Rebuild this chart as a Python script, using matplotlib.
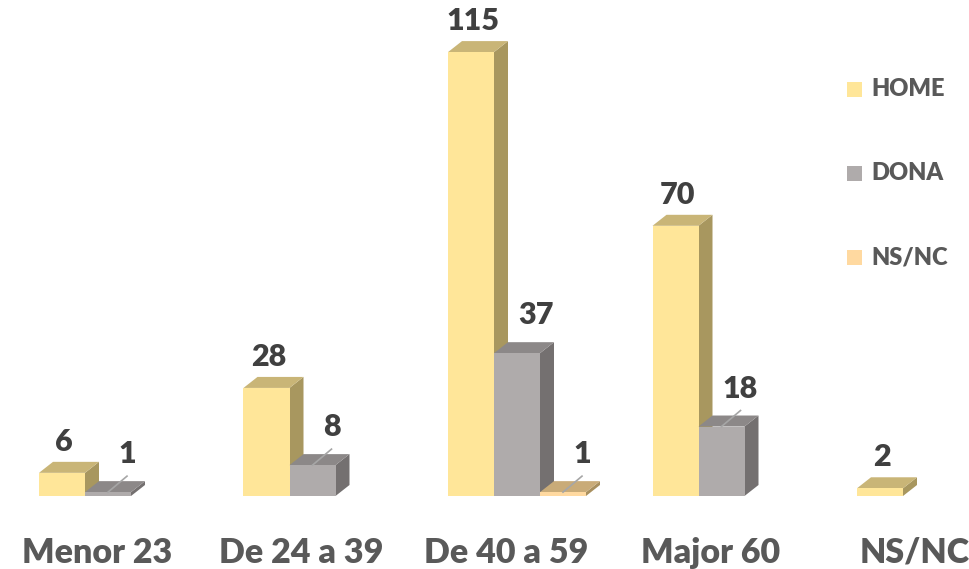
import matplotlib
matplotlib.use("Agg")
import matplotlib.pyplot as plt
from matplotlib.patches import Polygon, Rectangle

# =========================
# DATA
# =========================
categories = ["Menor 23", "De 24 a 39", "De 40 a 59", "Major 60", "NS/NC"]
home = [6, 28, 115, 70, 2]
dona = [1, 8, 37, 18, 0]
nsnc = [0, 0, 1, 0, 0]
series_names = ["HOME", "DONA", "NS/NC"]

# =========================
# STYLE
# =========================
# (front, top, side) colours per series
faces = {
    "HOME": ("#FFE699", "#C9B577", "#A8975F"),
    "DONA": ("#AFABAB", "#8C8888", "#747070"),
    "NS/NC": ("#FFD9A0", "#C9AB78", "#A88F5E"),
}
legend_cols = {"HOME": "#FFE699", "DONA": "#AFABAB", "NS/NC": "#FFD9A0"}

W, H = 969, 569
px_x = 204.5          # pixels per category
px_y = 3.86           # pixels per unit of value
base_px = 73          # baseline height from bottom in px
first_center_px = 97

bar_w = 46 / px_x
dx = 14 / px_x
dy = 11 / px_y
offsets = [-58 / px_x, -12 / px_x, 34 / px_x]

plt.rcParams['font.family'] = ['Lato', 'DejaVu Sans']
WEIGHT = "heavy"

fig = plt.figure(figsize=(W / 100, H / 100), dpi=100)
ax = fig.add_axes([0, 0, 1, 1])
ax.set_xlim(-first_center_px / px_x, (W - first_center_px) / px_x)
ax.set_ylim(-base_px / px_y, (H - base_px) / px_y)
ax.axis("off")


def bar3d(x0, h, name):
    front, top, side = faces[name]
    x1 = x0 + bar_w
    ax.add_patch(Polygon([(x1, 0), (x1 + dx, dy), (x1 + dx, h + dy), (x1, h)],
                         closed=True, fc=side, ec="none"))
    ax.add_patch(Polygon([(x0, h), (x1, h), (x1 + dx, h + dy), (x0 + dx, h + dy)],
                         closed=True, fc=top, ec="none"))
    ax.add_patch(Rectangle((x0, 0), bar_w, h, fc=front, ec="none"))


series = [home, dona, nsnc]
for i, cat in enumerate(categories):
    # NS/NC category has only one bar, drawn in first slot
    for k, (name, vals) in enumerate(zip(series_names, series)):
        v = vals[i]
        if v == 0:
            continue
        col_name = name if i < 4 else "HOME"
        x0 = i + offsets[k]
        bar3d(x0, v, col_name)
        xc = x0 + bar_w / 2
        if k == 0:
            ax.text(xc + 2 / px_x, v + 31 / px_y, str(v), ha="center", va="center",
                    fontsize=22, fontweight=WEIGHT, color="#404040")
        else:
            lx = xc + 19 / px_x
            ly = v + 38 / px_y
            if v < 30:
                ax.plot([xc, lx], [v, ly - 22 / px_y], color="#A6A6A6", lw=1.2)
            ax.text(lx, ly, str(v), ha="center", va="center",
                    fontsize=22, fontweight=WEIGHT, color="#404040")
    ax.text(i, -57 / px_y, cat, ha="center", va="center",
            fontsize=24.5, fontweight=WEIGHT, color="#595959")

# legend
for j, name in enumerate(series_names):
    yc = 89.5 + j * 84
    fig.patches.append(Rectangle((847 / W, 1 - (yc + 7.5) / H), 15 / W, 15 / H,
                                 fc=legend_cols[name], ec="none",
                                 transform=fig.transFigure, figure=fig))
    fig.text(871 / W, 1 - yc / H, name, ha="left", va="center",
             fontsize=17, fontweight=WEIGHT, color="#595959")

fig.savefig("out.png", dpi=100)
